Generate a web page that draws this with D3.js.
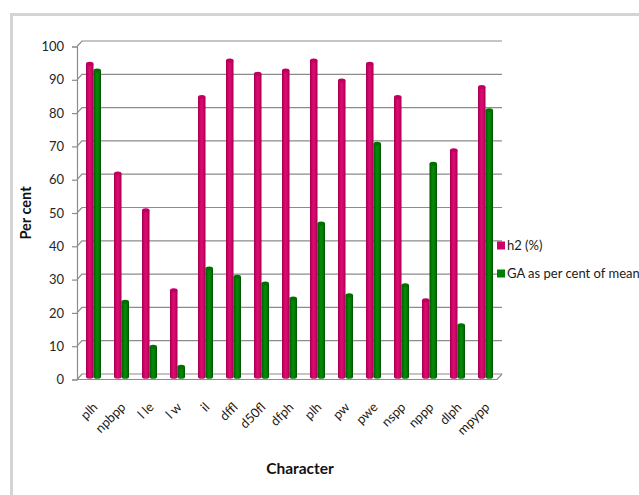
<!DOCTYPE html>
<html>
<head>
<meta charset="utf-8">
<script src="https://cdn.jsdelivr.net/npm/d3@7"></script>
<style>
  html, body { margin: 0; padding: 0; background: #ffffff; }
  svg { display: block; }
  text { font-family: Lato, "Open Sans", "DejaVu Sans", sans-serif; }
</style>
</head>
<body>
<svg id="chart" width="639" height="495"></svg>
<script>
// Characters measured
const categories = ["plh", "npbpp", "l le", "l w", "il", "dffl", "d50fl", "dfph", "plh", "pw", "pwe", "nspp", "nppp", "dlph", "mpypp"];
// Heritability in broad sense (%)
const h2 = [94, 61, 50, 26, 84, 95, 91, 92, 95, 89, 94, 84, 23, 68, 87];
// Genetic advance as per cent of mean
const ga = [92, 22.5, 9, 3, 32.5, 30, 28, 23.5, 46, 24.5, 70, 27.5, 64, 15.5, 80];
const seriesNames = ["h2 (%)", "GA as per cent of mean"];
const yTicks = [0, 10, 20, 30, 40, 50, 60, 70, 80, 90, 100];

const svg = d3.select("#chart");

// outer chart frame
svg.append("rect")
  .attr("x", 11.5).attr("y", 14.5)
  .attr("width", 700).attr("height", 600)
  .attr("fill", "#ffffff")
  .attr("stroke", "#d4d4d4").attr("stroke-width", 3);

// 3-D box geometry: front plane, back wall, and bars at mid depth
const left = 77, right = 497, depthX = 5, depthY = 5.5;
const yFront = d3.scaleLinear().domain([0, 100]).range([379.5, 46.5]);
const yBack = d3.scaleLinear().domain([0, 100]).range([379.5 - depthY, 46.5 - depthY]);
const yMid = d3.scaleLinear().domain([0, 100]).range([379.5 - depthY / 2, 46.5 - depthY / 2]);

const idx = d3.range(categories.length);
const xFront = d3.scaleBand().domain(idx).range([left, right]);
const x0 = d3.scaleBand().domain(idx)
  .range([left + depthX / 2, right + depthX / 2])
  .paddingInner(0.464).paddingOuter(0.232);
const x1 = d3.scaleBand().domain([0, 1]).range([0, x0.bandwidth()]);

// gridlines along the side and back walls
const grid = svg.append("g");
yTicks.forEach(t => {
  grid.append("path")
    .attr("d", `M${left},${yFront(t)}L${left + depthX},${yBack(t)}L${right + depthX},${yBack(t)}`)
    .attr("fill", "none").attr("stroke", "#8c8c8c").attr("stroke-width", 1.2);
});
// floor front edge and right edge
grid.append("path")
  .attr("d", `M${left},${yFront(0)}L${right},${yFront(0)}L${right + depthX},${yBack(0)}`)
  .attr("fill", "none").attr("stroke", "#8c8c8c").attr("stroke-width", 1.2);

// y axis on the front plane
const yAxis = d3.axisLeft(yFront).tickValues(yTicks).tickSize(5).tickPadding(8).tickFormat(d3.format("d"));
const ya = svg.append("g").attr("transform", `translate(${left},0)`).call(yAxis);
ya.select(".domain").attr("stroke", "#8c8c8c").attr("stroke-width", 1.2);
ya.selectAll(".tick line").attr("stroke", "#8c8c8c").attr("stroke-width", 1.2);
ya.selectAll(".tick text").attr("font-size", 13).attr("fill", "#262626")
  .style("font-family", "Lato, 'Open Sans', sans-serif");

// cylinder shading
const defs = svg.append("defs");
function cylGrad(id, stops) {
  const g = defs.append("linearGradient").attr("id", id)
    .attr("x1", "0%").attr("x2", "100%").attr("y1", "0%").attr("y2", "0%");
  stops.forEach(([o, c]) => g.append("stop").attr("offset", o).attr("stop-color", c));
}
cylGrad("gPink", [["0%", "#9e004c"], ["25%", "#cf0068"], ["50%", "#d9106f"], ["78%", "#cc0066"], ["100%", "#98004a"]]);
cylGrad("gGreen", [["0%", "#004f00"], ["25%", "#007d00"], ["50%", "#078a07"], ["78%", "#007800"], ["100%", "#004a00"]]);
const fills = ["url(#gPink)", "url(#gGreen)"];
const caps = ["#c00060", "#007000"];
const legendColors = ["#cc0066", "#008000"];

const ry = 2;
const bars = svg.append("g");
[h2, ga].forEach((vals, s) => {
  vals.forEach((v, i) => {
    const x = x0(i) + x1(s);
    const w = x1.bandwidth();
    const yt = yMid(v), yb = yMid(0);
    bars.append("path")
      .attr("d", `M${x},${yt}L${x},${yb}A${w / 2},${ry} 0 0 0 ${x + w},${yb}L${x + w},${yt}Z`)
      .attr("fill", fills[s]);
    bars.append("ellipse")
      .attr("cx", x + w / 2).attr("cy", yt)
      .attr("rx", w / 2).attr("ry", ry)
      .attr("fill", caps[s]);
  });
});

// category labels
const xl = svg.append("g");
idx.forEach(i => {
  const cx = x0(i) + x0.bandwidth() / 2;
  xl.append("text")
    .attr("transform", `translate(${cx + 5},408) rotate(-45)`)
    .attr("text-anchor", "end")
    .attr("font-size", 13).attr("fill", "#1a1a1a")
    .text(categories[i]);
});

// axis titles
svg.append("text")
  .attr("transform", "translate(31,213) rotate(-90)")
  .attr("text-anchor", "middle")
  .attr("font-size", 14.5).attr("font-weight", "bold").attr("fill", "#111")
  .text("Per cent");
svg.append("text")
  .attr("x", 300).attr("y", 474)
  .attr("text-anchor", "middle")
  .attr("font-size", 15.5).attr("font-weight", "bold").attr("fill", "#111")
  .text("Character");

// legend
const lg = svg.append("g");
const legendY = [245.5, 273.5];
seriesNames.forEach((name, s) => {
  lg.append("rect")
    .attr("x", 497).attr("y", legendY[s] - 4)
    .attr("width", 8).attr("height", 8)
    .attr("fill", legendColors[s]);
  lg.append("text")
    .attr("x", 507).attr("y", legendY[s] + 4.5)
    .attr("font-size", 13).attr("fill", "#1a1a1a")
    .text(name);
});
</script>
</body>
</html>
